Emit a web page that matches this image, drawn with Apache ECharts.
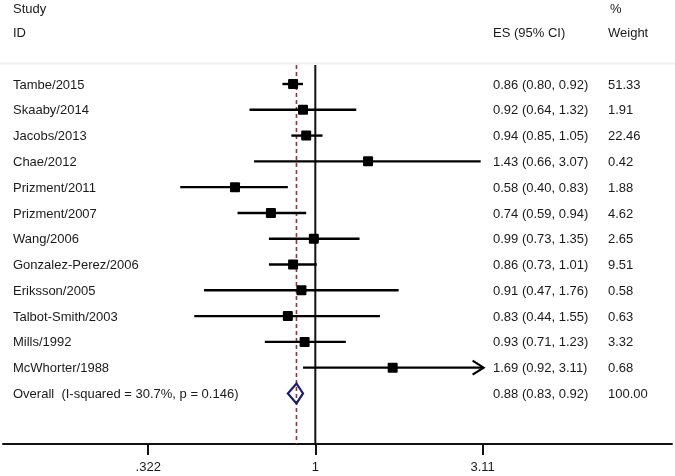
<!DOCTYPE html>
<html>
<head>
<meta charset="utf-8">
<script src="https://cdn.jsdelivr.net/npm/echarts@6/dist/echarts.min.js"></script>
<style>html,body{margin:0;padding:0;background:#fff;}#chart{width:675px;height:476px;}</style>
</head>
<body>
<div id="chart"></div>
<script>
// ---- data ----
const studies = ['Tambe/2015','Skaaby/2014','Jacobs/2013','Chae/2012','Prizment/2011','Prizment/2007','Wang/2006','Gonzalez-Perez/2006','Eriksson/2005','Talbot-Smith/2003','Mills/1992','McWhorter/1988'];
const es      = [0.86, 0.92, 0.94, 1.43, 0.58, 0.74, 0.99, 0.86, 0.91, 0.83, 0.93, 1.69];
const lo      = [0.80, 0.64, 0.85, 0.66, 0.40, 0.59, 0.73, 0.73, 0.47, 0.44, 0.71, 0.92];
const hi      = [0.92, 1.32, 1.05, 3.07, 0.83, 0.94, 1.35, 1.01, 1.76, 1.55, 1.23, 3.11];
const weights = [51.33, 1.91, 22.46, 0.42, 1.88, 4.62, 2.65, 9.51, 0.58, 0.63, 3.32, 0.68];
const overallLabel = 'Overall  (I-squared = 30.7%, p = 0.146)';
const overallES = 0.88, overallLo = 0.83, overallHi = 0.92, overallWeight = 100.00;
const tickValues = [0.322, 1, 3.11];
const tickLabels = ['.322', '1', '3.11'];
const refValues = [1, overallES];

const L = Math.log10;
const TXT = '#1a1a1a';
const FONT = '13px "Liberation Sans", Arial, sans-serif';
const X_NAME = 13, X_ES = 493, X_W = 608;
const fmtES = (e, l, h) => e.toFixed(2) + ' (' + l.toFixed(2) + ', ' + h.toFixed(2) + ')';

function textEl(str, x, y) {
  return {type: 'text', style: {text: str, x: x, y: y, fill: TXT, font: FONT, textVerticalAlign: 'middle', textAlign: 'left'}};
}

const chart = echarts.init(document.getElementById('chart'), null, {renderer: 'canvas'});
chart.setOption({
  animation: false,
  grid: {left: 3, right: 3, top: 65, bottom: 32},
  xAxis: {
    type: 'value', min: -0.920, max: 1.0507,
    axisLine: {show: true, onZero: false, lineStyle: {color: '#111', width: 2}},
    axisTick: {show: true, length: 11, lineStyle: {color: '#111', width: 2}, customValues: tickValues.map(L)},
    axisLabel: {
      customValues: tickValues.map(L), margin: 17, color: TXT, fontSize: 13, fontFamily: '"Liberation Sans", Arial, sans-serif',
      formatter: function (v) {
        for (let k = 0; k < tickValues.length; k++) if (Math.abs(L(tickValues[k]) - v) < 1e-6) return tickLabels[k];
        return '';
      }
    },
    splitLine: {show: false}
  },
  yAxis: {type: 'value', inverse: true, min: -0.737, max: 13.96, show: false, splitLine: {show: false}},
  graphic: [
    {type: 'line', shape: {x1: 0, y1: 63.5, x2: 675, y2: 63.5}, style: {stroke: '#f0f0f0', lineWidth: 2}},
    textEl('Study', X_NAME, 9), textEl('ID', X_NAME, 33),
    textEl('%', 610, 9), textEl('ES (95% CI)', X_ES, 33), textEl('Weight', X_W, 33)
  ],
  series: [
    {
      type: 'custom', z: 1,
      data: refValues.map((v, k) => [L(v), k]),
      renderItem: function (params, api) {
        const cs = params.coordSys;
        const p = api.coord([api.value(0), 0]);
        const dashed = api.value(1) === 1;
        return {type: 'line', shape: {x1: p[0], y1: cs.y, x2: p[0], y2: cs.y + cs.height},
          style: dashed ? {stroke: '#9a2f3f', lineWidth: 1.6, lineDash: [4, 3]} : {stroke: '#111', lineWidth: 2}};
      }
    },
    {
      type: 'custom', z: 2,
      data: studies.map((s, k) => [k, es[k], lo[k], hi[k], weights[k]]),
      renderItem: function (params, api) {
        const k = params.dataIndex;
        const i = api.value(0), e = api.value(1), l = api.value(2), h = api.value(3), w = api.value(4);
        const pE = api.coord([L(e), i]), pL = api.coord([L(l), i]), pH = api.coord([L(h), i]);
        const ch = [
          {type: 'line', shape: {x1: pL[0], y1: pL[1], x2: pH[0], y2: pH[1]}, style: {stroke: '#000', lineWidth: 2.4}},
          {type: 'rect', shape: {x: pE[0] - 5, y: pE[1] - 5, width: 10, height: 10, r: 1}, style: {fill: '#000'}}
        ];
        if (h >= tickValues[tickValues.length - 1]) {
          ch.push({type: 'polyline', shape: {points: [[pH[0] - 10, pH[1] - 7], [pH[0] + 1, pH[1]], [pH[0] - 10, pH[1] + 7]]},
            style: {stroke: '#000', lineWidth: 2.2, fill: null}});
        }
        ch.push(textEl(studies[k], X_NAME, pE[1] + 1));
        ch.push(textEl(fmtES(e, l, h), X_ES, pE[1] + 1));
        ch.push(textEl(w.toFixed(2), X_W, pE[1] + 1));
        return {type: 'group', children: ch};
      }
    },
    {
      type: 'custom', z: 3,
      data: [[studies.length, overallES, overallLo, overallHi, overallWeight]],
      renderItem: function (params, api) {
        const i = api.value(0), e = api.value(1), l = api.value(2), h = api.value(3), w = api.value(4);
        const pE = api.coord([L(e), i]), pL = api.coord([L(l), i]), pH = api.coord([L(h), i]);
        return {type: 'group', children: [
          {type: 'polygon', shape: {points: [[pL[0], pE[1]], [pE[0], pE[1] - 10], [pH[0], pE[1]], [pE[0], pE[1] + 10]]},
            style: {stroke: '#1c1c6e', lineWidth: 2.2, fill: null}},
          textEl(overallLabel, X_NAME, pE[1] + 1),
          textEl(fmtES(e, l, h), X_ES, pE[1] + 1),
          textEl(w.toFixed(2), X_W, pE[1] + 1)
        ]};
      }
    }
  ]
});
</script>
</body>
</html>
